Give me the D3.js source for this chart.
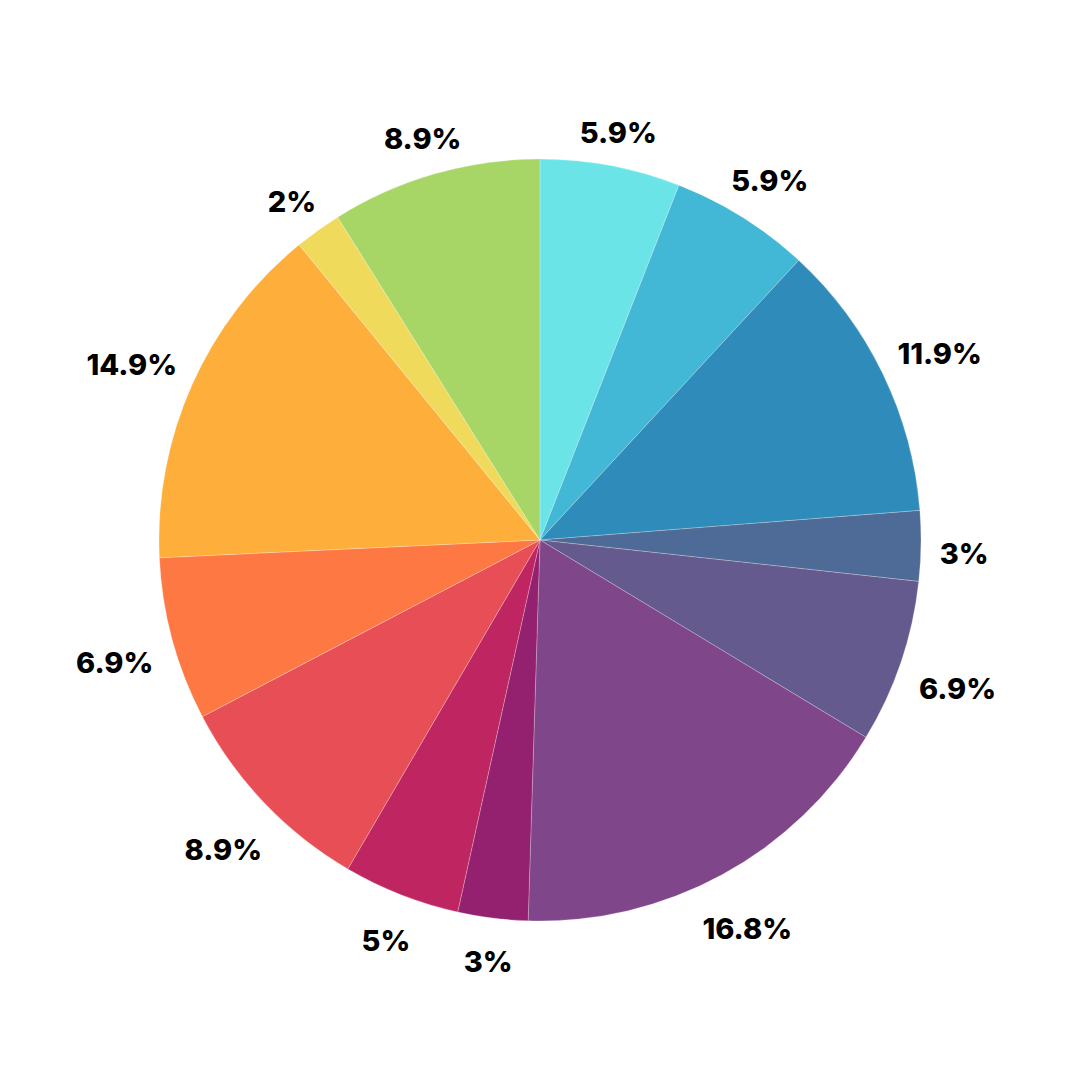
<!DOCTYPE html>
<html>
<head>
<meta charset="utf-8">
<script src="https://cdn.jsdelivr.net/npm/d3@7"></script>
<style>
  html, body { margin: 0; padding: 0; background: #ffffff; }
  svg { display: block; }
</style>
</head>
<body>
<svg id="chart" width="1080" height="1080"></svg>
<script>
// Slice values (counts, total 101), clockwise from 12 o'clock
const categories = ["A","B","C","D","E","F","G","H","I","J","K","L","M"];
const values = [6, 6, 12, 3, 7, 17, 3, 5, 9, 7, 15, 2, 9];
const colors = ["#6BE4E7","#43B7D6","#2E8BBA","#4E6A96","#645A8E","#7F4689",
                "#932170","#BF2661","#E84E56","#FE7844","#FEAE3B","#F0DA5C","#A8D666"];

const W = 1080, H = 1080;
const cx = 540, cy = 540, R = 381;
const fontSize = 29;
const labelGap = 399.5;   // radius where label boxes start
const halfBoxH = 15;      // half height of label box
const inkShift = 7;       // visual centre shift of glyphs

const svg = d3.select("#chart");
const g = svg.append("g").attr("transform", `translate(${cx},${cy})`);

const total = d3.sum(values);
const data = categories.map((c, i) => ({ cat: c, value: values[i], color: colors[i] }));

const pie = d3.pie().value(d => d.value).sort(null).startAngle(0).endAngle(2 * Math.PI);
const arc = d3.arc().innerRadius(0).outerRadius(R);
const arcs = pie(data);

g.selectAll("path.slice")
  .data(arcs)
  .join("path")
  .attr("class", "slice")
  .attr("d", arc)
  .attr("fill", d => d.data.color)
  .attr("stroke", "#ffffff")
  .attr("stroke-opacity", 0.6)
  .attr("stroke-width", 0.4)
  .attr("stroke-linejoin", "round");

const fmt = v => {
  const p = Math.round(v / total * 1000) / 10;
  return p + "%";
};

const labels = g.selectAll("text.lbl")
  .data(arcs)
  .join("text")
  .attr("class", "lbl")
  .attr("text-anchor", "middle")
  .attr("font-family", "Inter, 'Open Sans', sans-serif")
  .attr("font-weight", 800)
  .attr("font-size", fontSize)
  .attr("fill", "#000000")
  .text(d => fmt(d.data.value));

labels.each(function(d) {
  const t = d3.select(this);
  const w = this.getBBox().width;
  const a = (d.startAngle + d.endAngle) / 2;
  const vx = Math.sin(a), vy = -Math.cos(a);
  const r = labelGap + (w / 2) * Math.abs(vx) + halfBoxH * Math.abs(vy);
  const x = vx * r;
  const yCenter = vy * r + inkShift;
  t.attr("x", x).attr("y", yCenter + fontSize * 0.727 / 2);
});
</script>
</body>
</html>
